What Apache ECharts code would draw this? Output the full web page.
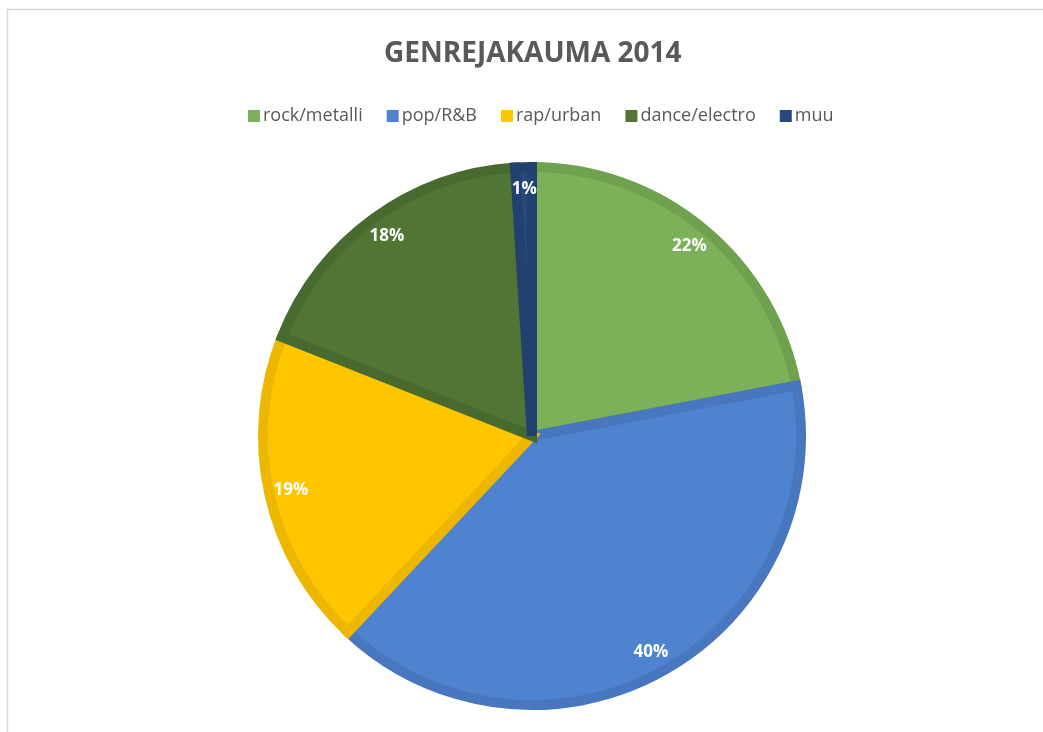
<!DOCTYPE html>
<html>
<head>
<meta charset="utf-8">
<script src="https://cdn.jsdelivr.net/npm/echarts@6/dist/echarts.min.js"></script>
<style>
html, body { margin: 0; padding: 0; background: #fff; }
#chart { width: 1043px; height: 732px; }
</style>
</head>
<body>
<div id="chart"></div>
<script>
// genres and their shares (%)
var genres = ['rock/metalli', 'pop/R&B', 'rap/urban', 'dance/electro', 'muu'];
var shares = [22, 40, 19, 18, 1];
var fillColors = ['#7cb15a', '#4f83d0', '#ffc600', '#507535', '#264a7f'];
var edgeColors = ['#6fa14e', '#4877bf', '#edb700', '#476a2e', '#22416f'];

var font = '"Open Sans", "Noto Sans", sans-serif';

function pieData(withStyle) {
    var out = [];
    for (var i = 0; i < genres.length; i++) {
        var d = { name: genres[i], value: shares[i] };
        if (withStyle) {
            d.itemStyle = { color: fillColors[i], borderColor: edgeColors[i] };
        }
        out.push(d);
    }
    return out;
}

var legendData = genres.map(function (g, i) {
    return { name: g, itemStyle: { color: fillColors[i], borderWidth: 0 } };
});

var myChart = echarts.init(document.getElementById('chart'));
var option = {
    animation: false,
    backgroundColor: '#fff',
    title: {
        text: 'GENREJAKAUMA 2014',
        left: 379,
        top: 35,
        textStyle: { fontFamily: font, fontSize: 28, fontWeight: 'bold', color: '#595959' }
    },
    legend: {
        data: legendData,
        top: 102,
        left: 243,
        icon: 'rect',
        itemWidth: 12,
        itemHeight: 12,
        itemGap: 24,
        textStyle: { fontFamily: font, fontSize: 18, color: '#595959', padding: [0, 0, 0, -2] }
    },
    graphic: [{
        type: 'rect',
        silent: true,
        shape: { x: 7.5, y: 9.5, width: 1100, height: 800 },
        style: { fill: 'none', stroke: '#d9d9d9', lineWidth: 1.5 }
    }],
    series: [
        {
            name: 'genret',
            type: 'pie',
            center: [532, 436],
            radius: [0, 269],
            startAngle: 90,
            clockwise: true,
            label: { show: false },
            labelLine: { show: false },
            emphasis: { disabled: true },
            itemStyle: { borderWidth: 10, borderJoin: 'miter' },
            data: pieData(true)
        },
        {
            name: 'osuudet',
            type: 'pie',
            center: [532, 436],
            radius: [238, 250],
            startAngle: 90,
            clockwise: true,
            silent: true,
            emphasis: { disabled: true },
            itemStyle: { color: 'rgba(0,0,0,0)', borderWidth: 0 },
            labelLine: { show: false },
            label: {
                show: true,
                position: 'inside',
                formatter: '{d}%',
                fontFamily: font,
                fontSize: 17,
                fontWeight: 'bold',
                color: '#ffffff'
            },
            data: pieData(false)
        }
    ]
};
myChart.setOption(option);
</script>
</body>
</html>
